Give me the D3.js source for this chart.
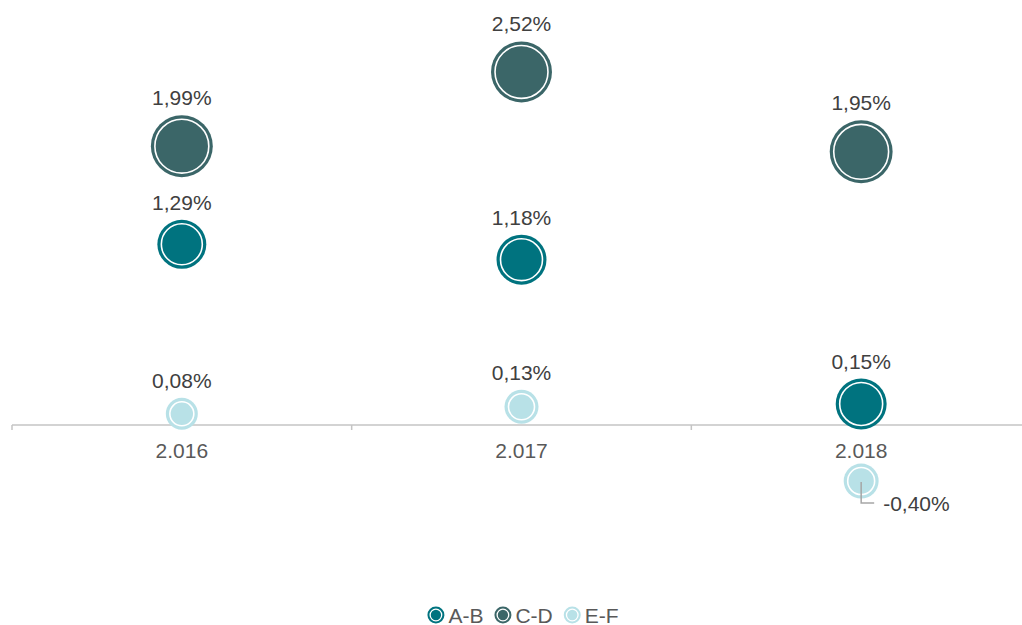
<!DOCTYPE html>
<html>
<head>
    <title>Bubbles</title>
    <script src="https://d3js.org/d3.v7.min.js"></script>
    <style>
        body { margin: 0; background: #fff; }
        svg { display: block; font-family: "Liberation Sans", Arial, sans-serif; }
    </style>
</head>
<body>
    <svg id="chart"></svg>
    <script>
        // categories + series (values in %, bubble sizes)
        const years = ["2.016", "2.017", "2.018"];
        const seriesNames = ["A-B", "C-D", "E-F"];
        const valuesAB = [1.29, 1.18, 0.15];
        const valuesCD = [1.99, 2.52, 1.95];
        const valuesEF = [0.08, 0.13, -0.40];
        const sizesAB = [6.0, 6.25, 6.5];
        const sizesCD = [9.6, 9.3, 9.9];
        const sizesEF = [2.56, 2.9, 3.06];
        const colors = ["#00737f", "#3b6668", "#b8e1e7"];

        const width = 1022, height = 625;

        const series = seriesNames.map((name, i) => ({
            name: name,
            color: colors[i],
            points: years.map((y, j) => ({
                year: y,
                value: [valuesAB, valuesCD, valuesEF][i][j],
                size: [sizesAB, sizesCD, sizesEF][i][j]
            }))
        }));

        const svg = d3.select("#chart")
            .attr("width", width)
            .attr("height", height);

        const x = d3.scaleBand()
            .domain(years)
            .range([12, 1031]);

        const y = d3.scaleLinear()
            .domain([-1, 3])
            .range([565.1, 4.7]);

        const r = d3.scaleSqrt()
            .domain([0, 10])
            .range([0, 31.6]);

        // axis at zero
        const axisY = y(0);
        svg.append("line")
            .attr("x1", 12).attr("x2", width)
            .attr("y1", axisY).attr("y2", axisY)
            .attr("stroke", "#c4c4c4")
            .attr("stroke-width", 1.5);

        // tick marks on the category boundaries
        svg.selectAll(".tick")
            .data(years)
            .join("line")
            .attr("class", "tick")
            .attr("x1", d => x(d)).attr("x2", d => x(d))
            .attr("y1", axisY).attr("y2", axisY + 5)
            .attr("stroke", "#c4c4c4")
            .attr("stroke-width", 1.5);

        svg.selectAll(".xlabel")
            .data(years)
            .join("text")
            .attr("class", "xlabel")
            .attr("x", d => x(d) + x.bandwidth() / 2)
            .attr("y", axisY + 33)
            .attr("text-anchor", "middle")
            .attr("font-size", 21)
            .attr("fill", "#595959")
            .text(d => d);

        function drawBubble(g, cx, cy, rad, color) {
            g.append("circle")
                .attr("cx", cx).attr("cy", cy).attr("r", rad)
                .attr("fill", color);
            g.append("circle")
                .attr("cx", cx).attr("cy", cy).attr("r", rad - 4)
                .attr("fill", color)
                .attr("stroke", "#fff")
                .attr("stroke-width", 1.6);
        }

        const fmt = v => v.toFixed(2).replace(".", ",") + "%";

        series.forEach(s => {
            const g = svg.append("g");
            s.points.forEach(p => {
                const cx = x(p.year) + x.bandwidth() / 2;
                const cy = y(p.value);
                const rad = r(p.size);
                drawBubble(g, cx, cy, rad, s.color);
            });
        });

        // data labels
        series.forEach(s => {
            s.points.forEach(p => {
                const cx = x(p.year) + x.bandwidth() / 2;
                const cy = y(p.value);
                const rad = r(p.size);
                if (p.value < 0) {
                    // label pushed out to the lower right with a leader line
                    svg.append("path")
                        .attr("d", `M${cx},${cy + 1}V${cy + 22}H${cx + 13}`)
                        .attr("fill", "none")
                        .attr("stroke", "#a6a6a6")
                        .attr("stroke-width", 1.5);
                    svg.append("text")
                        .attr("x", cx + 22)
                        .attr("y", cy + 30)
                        .attr("font-size", 21)
                        .attr("fill", "#404040")
                        .text(fmt(p.value));
                } else {
                    svg.append("text")
                        .attr("x", cx)
                        .attr("y", cy - rad - 10)
                        .attr("text-anchor", "middle")
                        .attr("font-size", 21)
                        .attr("fill", "#404040")
                        .text(fmt(p.value));
                }
            });
        });

        // legend
        const legend = svg.append("g");
        let lx = 0;
        series.forEach(s => {
            const item = legend.append("g").attr("transform", `translate(${lx},0)`);
            item.append("circle").attr("cx", 8.5).attr("cy", 0).attr("r", 8.5).attr("fill", s.color);
            item.append("circle").attr("cx", 8.5).attr("cy", 0).attr("r", 5.8)
                .attr("fill", s.color).attr("stroke", "#fff").attr("stroke-width", 1.3);
            const t = item.append("text")
                .attr("x", 21)
                .attr("y", 7.5)
                .attr("font-size", 21)
                .attr("fill", "#595959")
                .text(s.name);
            lx += 21 + t.node().getComputedTextLength() + 11;
        });
        const legendW = lx - 11;
        legend.attr("transform", `translate(${523 - legendW / 2},615)`);
    </script>
</body>
</html>
